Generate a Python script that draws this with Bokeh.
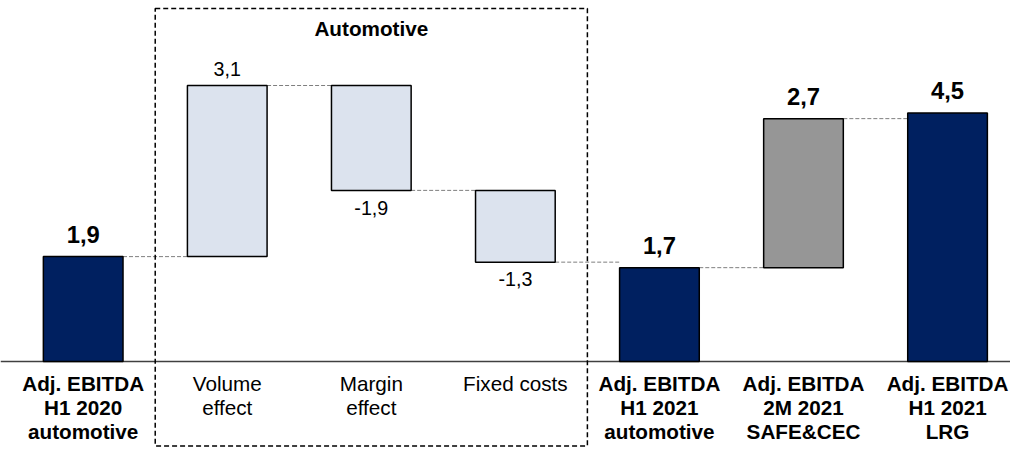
from bokeh.plotting import figure
from bokeh.embed import file_html
from bokeh.resources import INLINE
from bokeh.core.properties import value

# ---- data ----
categories = [
    "Adj. EBITDA\nH1 2020\nautomotive",
    "Volume\neffect",
    "Margin\neffect",
    "Fixed costs",
    "Adj. EBITDA\nH1 2021\nautomotive",
    "Adj. EBITDA\n2M 2021\nSAFE&CEC",
    "Adj. EBITDA\nH1 2021\nLRG",
]
values = [1.9, 3.1, -1.9, -1.3, 1.7, 2.7, 4.5]
kinds = ["total", "delta", "delta", "delta", "total", "delta", "total"]
group_label = "Automotive"

# ---- styles ----
NAVY = "#002060"
LIGHT = "#DCE3EE"
GRAY = "#969696"
fills = [NAVY, LIGHT, LIGHT, LIGHT, NAVY, GRAY, NAVY]
bold = [True, False, False, False, True, True, True]
FONT = value("Liberation Sans")
BSHIFT = 0.4  # baseline correction (fraction of font size)

W, H = 1010, 447
x0, x1 = -0.574, 6.437
y0, y1 = -1.558, 6.540
ppu = H / (y1 - y0)

p = figure(width=W, height=H, x_range=(x0, x1), y_range=(y0, y1),
           output_backend="svg", toolbar_location=None, min_border=0,
           outline_line_color=None)
p.axis.visible = False
p.grid.visible = False

# waterfall geometry
bottoms, tops, ends = [], [], []
level = 0.0
for v, k in zip(values, kinds):
    if k == "total":
        b, t = 0.0, v
        level = v
    else:
        b, t = (level, level + v) if v >= 0 else (level + v, level)
        level = level + v
    bottoms.append(b)
    tops.append(t)
    ends.append(level)

xs = list(range(len(values)))
bw = 0.553

# connectors
cx0 = [i + bw / 2 for i in xs[:-1]]
cx1 = [i + 1 - bw / 2 for i in xs[:-1]]
cy = ends[:-1]
p.segment(x0=cx0, y0=cy, x1=cx1, y1=cy, line_color="#7f7f7f",
          line_width=1, line_dash="4 2")

# baseline
p.segment(x0=[x0], y0=[0], x1=[x1], y1=[0], line_color="#404040", line_width=1.5)

p.vbar(x=xs, width=bw, bottom=bottoms, top=tops, fill_color=fills,
       line_color="black", line_width=1.5)


def put(x, y, txt, off, fs, is_bold):
    p.text(x=[x], y=[y], text=[txt], y_offset=off - BSHIFT * fs,
           text_align="center", text_baseline="alphabetic", text_font=FONT,
           text_font_size="%.1fpx" % fs,
           text_font_style="bold" if is_bold else "normal",
           text_color="black")


# value labels
for i, v in enumerate(values):
    txt = ("%.1f" % v).replace(".", ",")
    if v >= 0:
        y, off = tops[i], (-13 if bold[i] else -9)
    else:
        y, off = bottoms[i], 25
    put(i, y, txt, off, 23.8 if bold[i] else 19.7, bold[i])

# category labels
for i, c in enumerate(categories):
    for j, line in enumerate(c.split("\n")):
        put(i, 0, line, 30.5 + 24 * j, 20.7, bold[i])

# dashed group box
p.quad(left=[0.5], right=[3.5], top=[y1 - 8.0 / ppu], bottom=[y0 + 1.5 / ppu],
       fill_color=None, line_color="black", line_width=1.5, line_dash="5 3")
put(2.0, y1, group_label, 36.5, 20.7, True)

open("out.html", "w").write(file_html(p, INLINE))
